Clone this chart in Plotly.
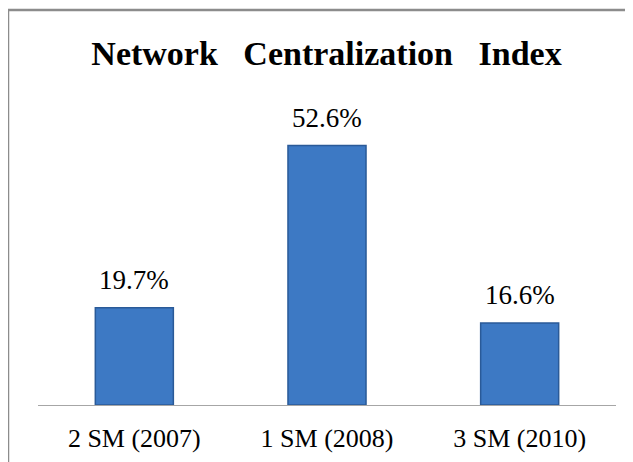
import plotly.graph_objects as go

# values
periods = ["2 SM (2007)", "1 SM (2008)", "3 SM (2010)"]
centralization = [19.7, 52.6, 16.6]
labels = ["19.7%", "52.6%", "16.6%"]

serif = "Liberation Serif, Times New Roman, serif"

fig = go.Figure()
fig.add_trace(go.Bar(
    x=periods, y=centralization,
    marker=dict(color="#3d79c4", line=dict(color="#2a5a98", width=1.5)),
    width=0.405,
))

# value labels sit well above the bar tops, as in the original
for p, v, t in zip(periods, centralization, labels):
    fig.add_annotation(x=p, y=v, text=t, showarrow=False, yanchor="middle", yshift=28,
                       font=dict(family=serif, size=27, color="#000000"))

# the page body adds an 8px offset, so margins are shifted by 8px
fig.update_layout(
    width=633, height=462,
    margin=dict(l=30, r=25, t=101, b=65),
    paper_bgcolor="white", plot_bgcolor="white",
    showlegend=False,
    title=dict(text="<b>Network   Centralization   Index</b>", x=318.5 / 633, xanchor="center",
               y=1 - 45 / 462, yanchor="middle", yref="container",
               font=dict(family=serif, size=34, color="#000000")),
)
fig.update_xaxes(showline=True, linecolor="#a6a6a6", linewidth=1,
                 tickfont=dict(family=serif, size=26, color="#000000"),
                 ticks="outside", ticklen=10, tickcolor="rgba(0,0,0,0)")
fig.update_yaxes(range=[0, 60], visible=False, showgrid=False)

# outer chart border (runs off the right and bottom of the picture)
fig.add_shape(type="rect", xref="paper", yref="paper",
              x0=(0 - 30) / 578, x1=(640 - 30) / 578,
              y0=(397 - 470) / 296, y1=(397 - 2) / 296,
              line=dict(color="#8c8c8c", width=2.5), fillcolor="rgba(0,0,0,0)", layer="below")

fig.write_html("out.html")
